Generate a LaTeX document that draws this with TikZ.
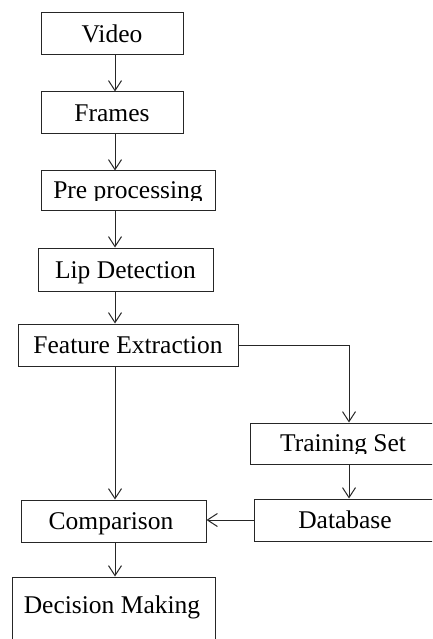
\documentclass[tikz,border=0pt]{standalone}
\usepackage{fontspec}
\setmainfont{Liberation Serif}
\usetikzlibrary{arrows.meta}
\begin{document}
\begin{tikzpicture}[x=1pt,y=-1pt,
  box/.style={draw=black!85,line width=1pt,rectangle,inner sep=0pt},
  lbl/.style={inner sep=0pt,font=\fontsize{25.5}{28}\selectfont},
  arr/.style={draw=black!85,line width=1pt,-{Straight Barb[length=10pt,width=13pt,line width=1pt]}}]
\useasboundingbox (0,0) rectangle (432,639);
\clip (0,0) rectangle (432,639);
\coordinate (spine) at (115,0);
\coordinate (rspine) at (349,0);
% boxes
\node[box,minimum width=142,minimum height=42] (video) at (112,34) {};
\node[lbl] at (video.center) {Video};
\node[box,minimum width=142,minimum height=42] (frames) at (112,113) {};
\node[lbl] at (frames.center) {Frames};
\node[box,minimum width=174,minimum height=39] (pre) at (128,190.5) {};
\begin{scope}
  \clip (41,171) rectangle (215,200);
  \node[lbl,anchor=base] at (128,198) {Pre processing};
\end{scope}
\node[box,minimum width=175,minimum height=43] (lip) at (125.5,269.5) {};
\node[lbl,anchor=base] at (125.5,278) {Lip Detection};
\node[box,minimum width=220,minimum height=42] (fe) at (128,345) {};
\node[lbl,anchor=base] at (128,353) {Feature Extraction};
\node[box,minimum width=190,minimum height=41] (train) at (345,443.5) {};
\begin{scope}
  \clip (250,423) rectangle (432,453);
  \node[lbl,anchor=base] at (343,451) {Training Set};
\end{scope}
\node[box,minimum width=182,minimum height=42] (db) at (345,520) {};
\node[lbl,anchor=base] at (345,528) {Database};
\node[box,minimum width=185,minimum height=42] (comp) at (113.5,521) {};
\node[lbl,anchor=base] at (111,529) {Comparison};
\node[box,minimum width=203,minimum height=110] (dm) at (113.5,632) {};
\node[lbl,anchor=base] at (112,613) {Decision Making};
% connectors
\draw[arr] (video.south -| spine) -- (frames.north -| spine);
\draw[arr] (frames.south -| spine) -- (pre.north -| spine);
\draw[arr] (pre.south -| spine) -- (lip.north -| spine);
\draw[arr] (lip.south -| spine) -- (fe.north -| spine);
\draw[arr] (fe.south -| spine) -- (comp.north -| spine);
\draw[arr] (fe.east) -| (train.north -| rspine);
\draw[arr] (train.south -| rspine) -- (db.north -| rspine);
\draw[arr] (db.west) -- (db.west -| comp.east);
\draw[arr] (comp.south -| spine) -- (dm.north -| spine);
\end{tikzpicture}
\end{document}
